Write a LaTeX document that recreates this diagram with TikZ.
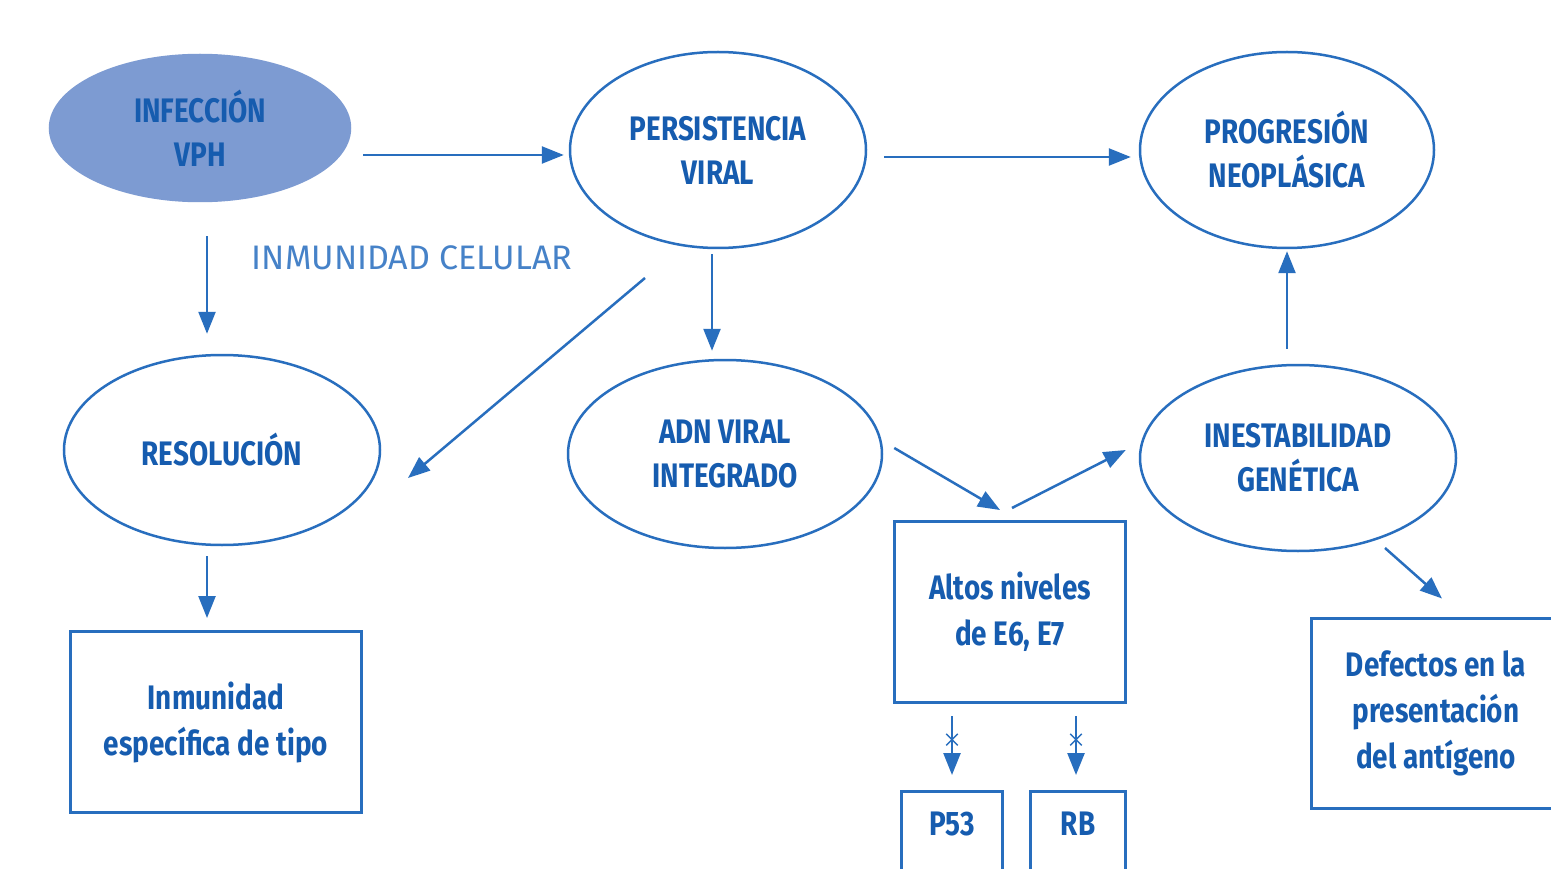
\documentclass[tikz,border=0pt]{standalone}
\usepackage{fontspec}
\setmainfont{Fira Sans}[FakeStretch=0.82]
\newfontfamily\anchafont{Fira Sans}
\usetikzlibrary{shapes.geometric,shapes.misc,arrows.meta}
\definecolor{vphblue}{RGB}{22,92,175}
\definecolor{vphline}{RGB}{40,110,190}
\definecolor{vphfill}{RGB}{125,155,210}
\definecolor{vphlabel}{RGB}{70,130,200}

\begin{document}
\begin{tikzpicture}[x=1pt,y=-1pt,
  elip/.style={ellipse,draw=vphline,line width=2.5pt,inner sep=0pt,align=center,text=vphblue,font=\fontsize{34}{44}\selectfont\bfseries},
  caja/.style={rectangle,draw=vphline,line width=3pt,align=center,text=vphblue,font=\fontsize{34}{46}\selectfont\bfseries},
  flecha/.style={draw=vphline,line width=2.5pt,-{Triangle[length=22pt,width=17pt]}},
  inhib/.style={cross out,draw=vphline,line width=1.5pt,minimum size=10pt,inner sep=0pt}]
\useasboundingbox[fill=white] (0,0) rectangle (1551,869);

\node[elip,draw=vphfill,fill=vphfill,minimum width=300pt,minimum height=146pt] (inf) at (200,128) {INFECCIÓN\\VPH};
\node[elip,minimum width=296pt,minimum height=196pt] (per) at (718,150) {PERSISTENCIA\\VIRAL};
\node[elip,minimum width=294pt,minimum height=196pt] (prog) at (1287,150) {PROGRESIÓN\\NEOPLÁSICA};
\node[elip,minimum width=316pt,minimum height=190pt] (res) at (222,450) {RESOLUCIÓN};
\node[elip,minimum width=314pt,minimum height=188pt] (adn) at (725,454) {ADN VIRAL\\INTEGRADO};
\node[elip,minimum width=316pt,minimum height=186pt] (ines) at (1298,458) {INESTABILIDAD\\GENÉTICA};

\node[caja,minimum width=291pt,minimum height=181pt] (inm) at (216,722) {Inmunidad\\específica de tipo};
\node[caja,minimum width=231pt,minimum height=181pt] (alt) at (1010,612) {Altos niveles\\de E6, E7};
\node[caja,anchor=north,minimum width=101pt,inner ysep=20pt,text height=24pt,text depth=60pt] (p53) at (952,790) {P53};
\node[caja,anchor=north,minimum width=95pt,inner ysep=20pt,text height=24pt,text depth=60pt] (rb) at (1078,790) {RB};
\node[caja,minimum width=250pt,minimum height=190pt] (def) at (1436,713) {Defectos en la\\presentación\\del antígeno};

\node[text=vphlabel,font=\fontsize{34}{40}\anchafont] (cel) at (412,258) {INMUNIDAD CELULAR};

\draw[flecha,shorten <=12pt,shorten >=5pt] ([yshift=-27pt]inf.east) -- ([yshift=-5pt]per.west);
\draw[flecha,shorten <=17pt,shorten >=8pt] ([yshift=-7pt]per.east) -- ([yshift=-7pt]prog.west);
\draw[flecha,shorten <=34pt,shorten >=20pt] ([xshift=7pt]inf.south) -- ([xshift=-15pt]res.north);
\draw[flecha,shorten <=10pt,shorten >=12pt] ([xshift=-15pt]res.south) -- ([xshift=-9pt]inm.north);
\draw[flecha] ([shift={(-73,128)}]per.center) -- ([shift={(186,28)}]res.center);
\draw[flecha,shorten <=5pt,shorten >=8pt] ([xshift=-6pt]per.south) -- ([xshift=-13pt]adn.north);
\draw[flecha] ([shift={(11,-6)}]adn.east) -- ([shift={(-10,-10)}]alt.north);
\draw[flecha] ([shift={(2,-12)}]alt.north) -- ([shift={(-13,-8)}]ines.west);
\draw[flecha,shorten <=15pt,shorten >=2pt] ([xshift=-11pt]ines.north) -- (prog.south);
\draw[flecha] ([shift={(87,90)}]ines.center) -- ([shift={(6,-18)}]def.north);
\draw[flecha] ([shift={(-58,12)}]alt.south) -- ([yshift=15pt]p53.north) node[pos=0.4,inhib] {};
\draw[flecha] ([shift={(66,12)}]alt.south) -- ([shift={(-2,-15)}]rb.north) node[pos=0.4,inhib] {};
\end{tikzpicture}
\end{document}
